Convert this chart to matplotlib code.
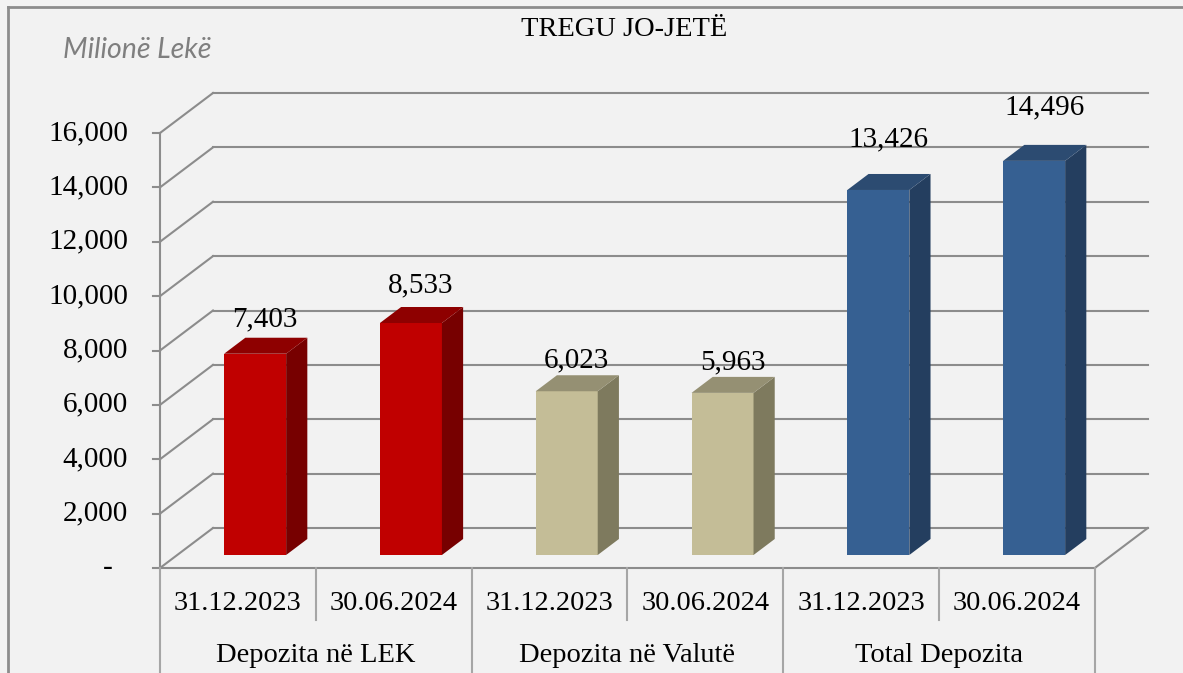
import matplotlib.pyplot as plt
from matplotlib.lines import Line2D
from matplotlib.patches import Polygon

# --- data ---
dates = ['31.12.2023', '30.06.2024', '31.12.2023', '30.06.2024', '31.12.2023', '30.06.2024']
groups = ['Depozita në LEK', 'Depozita në Valutë', 'Total Depozita']
values = [7403, 8533, 6023, 5963, 13426, 14496]
y_ticks = [0, 2000, 4000, 6000, 8000, 10000, 12000, 14000, 16000]

front_colors = ['#C00000', '#C00000', '#C4BD97', '#C4BD97', '#366092', '#366092']
side_colors = ['#770000', '#770000', '#7E7A5E', '#7E7A5E', '#243E5F', '#243E5F']
top_colors = ['#8E0000', '#8E0000', '#959073', '#959073', '#2C4B71', '#2C4B71']

BG = '#F2F2F2'
GRID = '#8C8C8C'

# --- layout (pixel -> data mapping) ---
W_PX, H_PX = 1183, 673
PX_CAT = 155.8            # pixels per category
PX_VAL = 435 / 16000      # pixels per value unit
X0_PX, Y0_PX = 160, 568   # front axis origin in pixels

DX = 53 / PX_CAT          # oblique depth offset
DY = 40 / PX_VAL
BAR_W = 62 / PX_CAT
D_FRONT = 0.325           # depth of bar front face
D_BAR = 0.40              # depth of bar

plt.rcParams['font.family'] = ['Liberation Serif', 'DejaVu Serif']

fig = plt.figure(figsize=(W_PX / 100, H_PX / 100), dpi=100, facecolor=BG)
ax = fig.add_axes([0, 0, 1, 1])
ax.set_facecolor(BG)
ax.set_xlim(-0.5 - X0_PX / PX_CAT, -0.5 + (W_PX - X0_PX) / PX_CAT)
ax.set_ylim(-(H_PX - Y0_PX) / PX_VAL, Y0_PX / PX_VAL)
ax.axis('off')

n = len(values)
x_left, x_right = -0.5, n - 0.5

# back wall + left wall gridlines
for t in y_ticks:
    ax.plot([x_left + DX, x_right + DX], [t + DY, t + DY], color=GRID, lw=1.5, zorder=1)
    ax.plot([x_left, x_left + DX], [t, t + DY], color=GRID, lw=1.5, zorder=1)

# front axis, floor
ax.plot([x_left, x_left], [0, y_ticks[-1]], color=GRID, lw=1.5, zorder=1)
ax.plot([x_left, x_right], [0, 0], color=GRID, lw=1.5, zorder=1)
ax.plot([x_right, x_right + DX], [0, DY], color=GRID, lw=1.5, zorder=1)

for t in y_ticks:
    ax.plot([x_left - 7 / PX_CAT, x_left], [t, t], color=GRID, lw=1.5, zorder=1)
    if t == 0:
        ax.text(x_left - 47 / PX_CAT, t, '-', ha='right', va='center', fontsize=21)
    else:
        ax.text(x_left - 32 / PX_CAT, t, f'{t:,}', ha='right', va='center', fontsize=21)

# 3d-looking bars
x = list(range(n))
bx = [xi + D_FRONT * DX for xi in x]
base = D_FRONT * DY
sx, sy = D_BAR * DX, D_BAR * DY
ax.bar(bx, values, width=BAR_W, bottom=base, color=front_colors, zorder=3)
for i, v in enumerate(values):
    xl, xr = bx[i] - BAR_W / 2, bx[i] + BAR_W / 2
    side = [(xr, base), (xr + sx, base + sy), (xr + sx, base + v + sy), (xr, base + v)]
    top = [(xl, base + v), (xr, base + v), (xr + sx, base + v + sy), (xl + sx, base + v + sy)]
    ax.add_patch(Polygon(side, closed=True, facecolor=side_colors[i], edgecolor='none', zorder=3))
    ax.add_patch(Polygon(top, closed=True, facecolor=top_colors[i], edgecolor='none', zorder=3))
    ax.text(bx[i] + 0.065, v + 1000 + 0.1 * v, f'{v:,}', ha='center', va='center',
            fontsize=21, zorder=5)

# category table below the floor
y_bottom = ax.get_ylim()[0]
y_short = -(620 - Y0_PX) / PX_VAL
for k in range(n + 1):
    y_end = y_bottom if k % 2 == 0 else y_short
    ax.plot([x_left + k, x_left + k], [0, y_end], color='#A6A6A6', lw=1.5, zorder=1)
for i, d in enumerate(dates):
    ax.text(i, -(603 - Y0_PX) / PX_VAL, d, ha='center', va='center', fontsize=20.5)
for j, g in enumerate(groups):
    ax.text(2 * j + 0.5, -(655 - Y0_PX) / PX_VAL, g, ha='center', va='center', fontsize=20.5)

# title and unit
fig.text(624 / W_PX, 1 - 29 / H_PX, 'TREGU JO-JETË', ha='center', va='center', fontsize=20.5)
fig.text(63 / W_PX, 1 - 50 / H_PX, 'Milionë Lekë', ha='left', va='center', fontsize=20.5,
         style='italic', color='#7F7F7F', family=['Lato', 'DejaVu Sans'])

# outer frame (top and left visible)
fig.add_artist(Line2D([8 / W_PX, 1], [1 - 7 / H_PX, 1 - 7 / H_PX], color='#8C8C8C', lw=2,
                      transform=fig.transFigure))
fig.add_artist(Line2D([8 / W_PX, 8 / W_PX], [0, 1 - 7 / H_PX], color='#8C8C8C', lw=2,
                      transform=fig.transFigure))

fig.savefig('out.png', dpi=100, facecolor=BG)
